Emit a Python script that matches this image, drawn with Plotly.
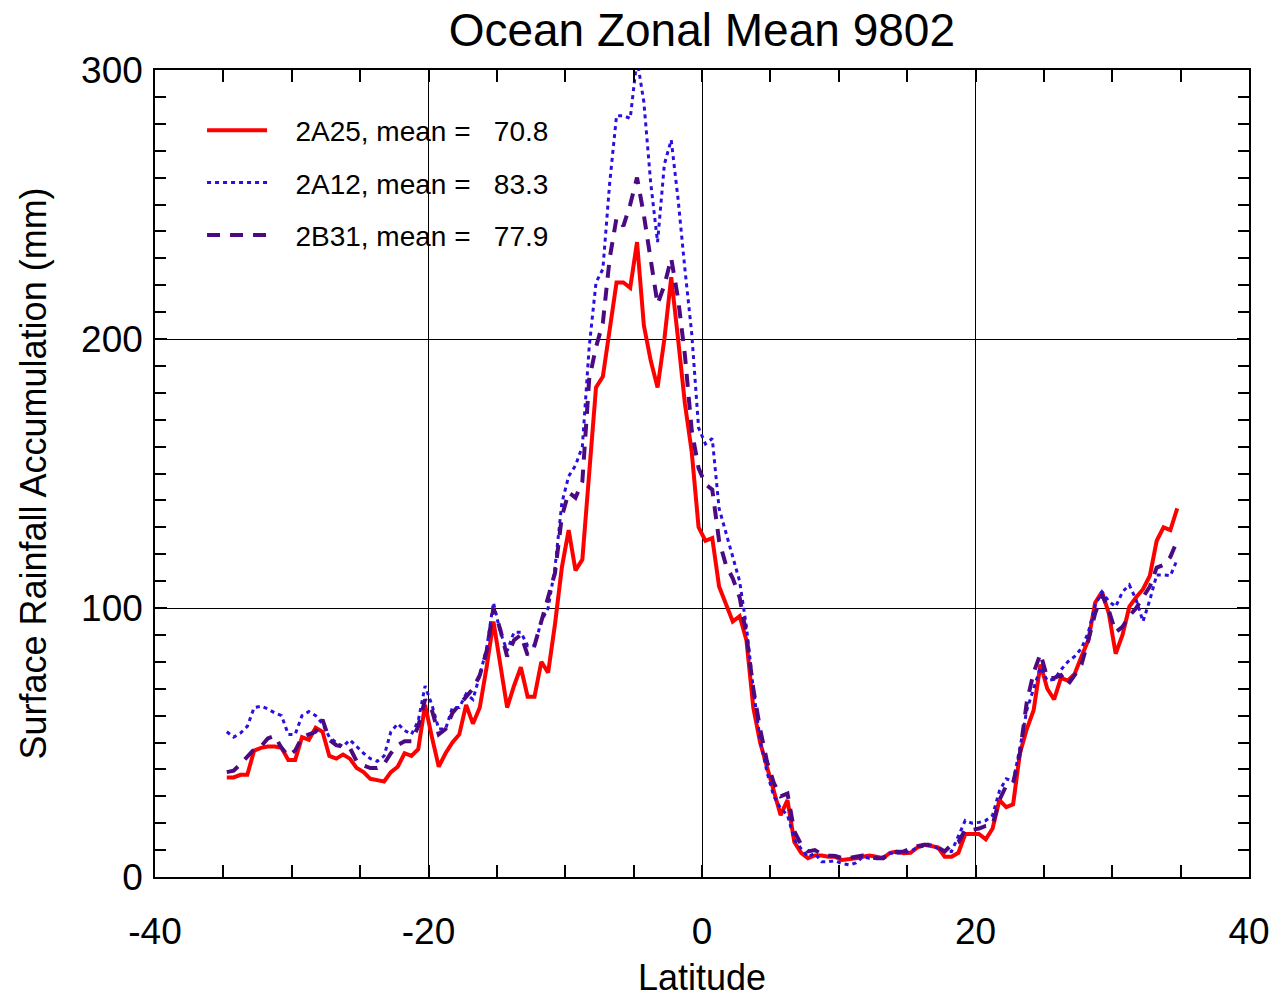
import numpy as np
import plotly.graph_objects as go

# Latitude bin centres (0.5 degree bins)
lat = [-34.75 + 0.5 * i for i in range(140)]

# 2A25 (red, solid)
r2a25 = [
    37, 37, 38, 38, 47, 48, 48.5, 48.5, 48, 43.5,
    43.5, 52, 51, 55.5, 54, 45, 44, 45.5, 44, 40.5,
    39, 36.5, 36, 35.5, 39, 41, 46, 45, 47.5, 64,
    52, 41, 46, 50, 53, 64, 57, 63, 78, 95,
    79, 63, 71, 78, 67, 67, 80, 76, 94, 115,
    129, 114, 118, 150, 182, 186, 204, 221, 221, 219,
    236, 205, 192, 182, 200, 223, 200, 176, 158, 130,
    125, 126, 108, 101, 95, 97, 88, 63, 50, 41,
    32, 23, 28.6, 13, 9, 7, 8, 8, 7.5, 7.5,
    6.3, 6.5, 7, 7.5, 8, 7.5, 7, 9, 9.5, 8.8,
    9, 11, 12, 11.5, 11, 7.5, 7.5, 9, 16, 16,
    16, 14, 18, 28.6, 26, 27, 46, 55, 62, 79,
    70, 66, 74, 73, 75.5, 82, 88, 102, 106, 98,
    83, 90, 100.5, 104, 107, 112, 125, 130, 129, 137,
]

# 2A12 (blue, dotted)
r2a12 = [
    54, 52, 53.5, 56, 63, 63.5, 62.5, 61, 60, 53,
    53, 60, 61.5, 60, 57, 52, 50, 48.5, 51, 48.5,
    46, 44, 43, 45, 54, 57, 54.5, 53, 58, 71,
    64, 55, 55, 63, 63, 68, 66, 75, 85, 102,
    91, 84, 91, 91, 86, 86, 95, 100, 115, 139,
    149, 153, 160, 197, 221, 226, 258, 283, 283, 282,
    304, 288, 258, 236, 265, 274, 252, 226, 202, 167,
    161, 163, 137, 128, 119, 110, 93, 70, 51, 39,
    30, 25.5, 23, 14, 10.5, 7.5, 8.8, 5.7, 5.7, 6,
    5, 4.5, 5.2, 7.5, 7, 7, 7.5, 8.8, 8.8, 9,
    9.5, 11, 11.5, 12, 10.5, 9.5, 9.5, 15, 21, 20,
    20.3, 21, 23, 32, 36.5, 35.5, 48, 62, 70, 78,
    73, 73.5, 77, 80, 82, 85, 91, 101, 106, 102.5,
    100.5, 106, 108.6, 103, 95, 103, 112.3, 112.3, 112, 118,
]

# 2B31 (purple, dashed)
r2b31 = [
    39, 39.5, 42, 44.5, 47.5, 48.5, 51.5, 52.5, 48, 45,
    47, 52, 53, 54, 58.5, 51, 49, 48.5, 48, 43,
    41.5, 40.5, 40.5, 42, 46, 49, 50.5, 50.5, 56, 66,
    62, 53, 55, 61, 64, 67, 70, 75, 84, 100,
    92, 82, 88, 90, 82.5, 86, 95, 104, 113, 134,
    143, 141, 147, 185, 197, 206, 230, 245, 242, 250,
    260, 246, 230, 213, 220, 230, 215, 194, 166, 152,
    146, 144, 125, 116, 111, 104, 90, 70, 55, 43,
    35, 30, 31, 17, 12, 9.5, 10, 8.5, 8, 7.8,
    7, 7, 7.5, 8, 7.5, 7, 7, 8.5, 9.3, 9.5,
    10.5, 11.5, 12, 12, 11, 9.5, 12, 13, 17.5, 17.5,
    18, 19, 19.5, 28.6, 34, 35, 46, 65, 76, 83,
    74, 74, 75, 71.5, 75, 79, 88, 98, 105, 99,
    91, 93, 97, 100, 104, 108, 115, 116, 119, 125,
]

NB = "\u00a0"
series_names = [NB * 3 + "2A25, mean =" + NB * 3 + "70.8",
                NB * 3 + "2A12, mean =" + NB * 3 + "83.3",
                NB * 3 + "2B31, mean =" + NB * 3 + "77.9"]

x_ticks = [-40, -20, 0, 20, 40]
x_tick_text = ["-40", "-20", "0", "20", "40"]
y_ticks = [0, 100, 200, 300]
y_tick_text = ["0", "100", "200", "300"]

FONT = "Liberation Sans, Arial, Helvetica, sans-serif"

fig = go.Figure()
fig.add_trace(go.Scatter(x=lat, y=r2a25, mode="lines", name=series_names[0],
                         legendgroup="a",
                         line=dict(color="#ff0000", width=4)))
fig.add_trace(go.Scatter(x=lat, y=r2a12, mode="lines", name=series_names[1],
                         legendgroup="b",
                         line=dict(color="#2a10e0", width=3, dash="4px,4px")))
fig.add_trace(go.Scatter(x=lat, y=r2b31, mode="lines", name=series_names[2],
                         legendgroup="c",
                         line=dict(color="#4b0a82", width=4, dash="13px,10px")))

axis_common = dict(
    showline=True, linecolor="black", linewidth=1.5, mirror="ticks",
    ticks="inside", ticklen=12, tickcolor="black", tickwidth=1.5,
    showgrid=True, gridcolor="black", gridwidth=1,
    zeroline=False, automargin=False,
    tickfont=dict(family=FONT, size=37, color="black"),
)

fig.update_xaxes(
    range=[-40, 40], tickvals=x_ticks, ticktext=x_tick_text,
    minor=dict(dtick=5, ticks="inside", ticklen=12, tickcolor="black", tickwidth=1.5, showgrid=False),
    title=dict(text="Latitude", font=dict(family=FONT, size=36, color="black"), standoff=43),
    ticklabelstandoff=21,
    **axis_common,
)
fig.update_yaxes(
    range=[0, 300], tickvals=y_ticks, ticktext=y_tick_text,
    minor=dict(dtick=10, ticks="inside", ticklen=11, tickcolor="black", tickwidth=1.5, showgrid=False),
    title=dict(text="Surface Rainfall Accumulation (mm)", font=dict(family=FONT, size=36, color="black"), standoff=24),
    ticklabelstandoff=3,
    **axis_common,
)

fig.update_layout(
    width=1276, height=998,
    margin=dict(l=155, r=27, t=70, b=121),
    paper_bgcolor="white", plot_bgcolor="white",
    title=dict(text="Ocean Zonal Mean 9802", x=0.55, xanchor="center", y=0.97, yanchor="middle",
               font=dict(family=FONT, size=46, color="black")),
    showlegend=True,
    legend=dict(x=0.043, y=0.956, xanchor="left", yanchor="top",
                bgcolor="rgba(0,0,0,0)", borderwidth=0,
                font=dict(family=FONT, size=28, color="black"),
                traceorder="grouped", tracegroupgap=13, itemwidth=60),
)

fig.write_html("out.html")
